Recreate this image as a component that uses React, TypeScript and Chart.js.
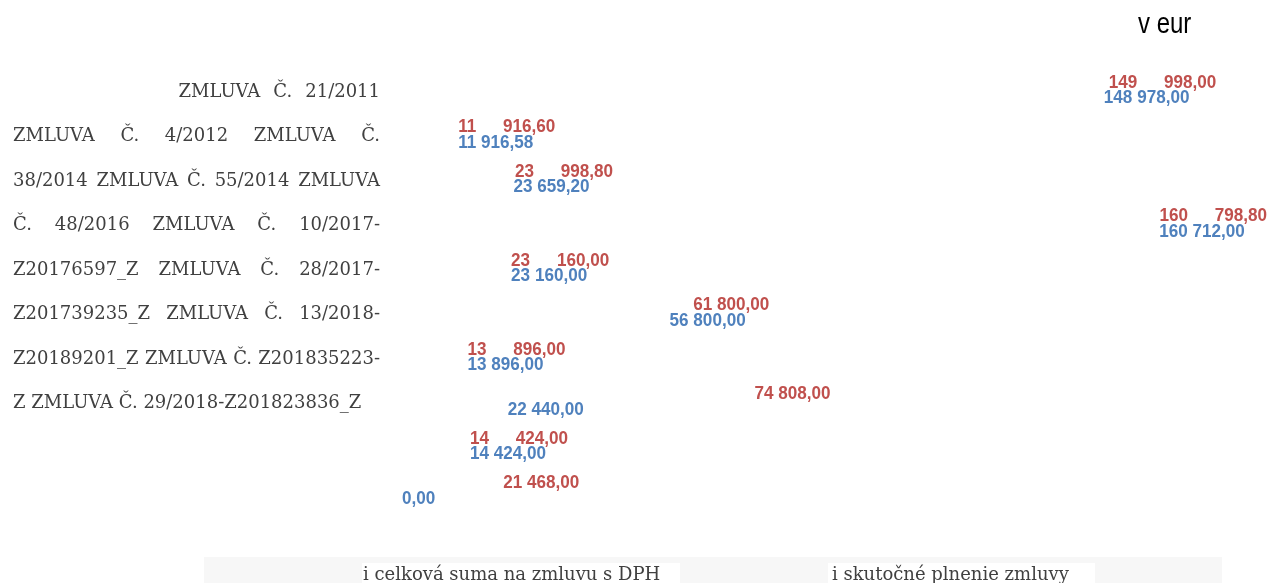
import React, { useEffect, useRef } from "react";
import { Chart, registerables } from "chart.js";

Chart.register(...registerables);

const categories = [
  "ZMLUVA Č. 21/2011",
  "ZMLUVA Č. 4/2012",
  "ZMLUVA Č. 38/2014",
  "ZMLUVA Č. 55/2014",
  "ZMLUVA Č. 48/2016",
  "ZMLUVA Č. 10/2017-Z20176597_Z",
  "ZMLUVA Č. 28/2017-Z201739235_Z",
  "ZMLUVA Č. 13/2018-Z20189201_Z",
  "ZMLUVA Č. Z201835223-Z",
  "ZMLUVA Č. 29/2018-Z201823836_Z",
];

const totalWithVat = [149998.0, 11916.6, 23998.8, 160798.8, 23160.0, 61800.0, 13896.0, 74808.0, 14424.0, 21468.0];
const actualFulfilment = [148978.0, 11916.58, 23659.2, 160712.0, 23160.0, 56800.0, 13896.0, 22440.0, 14424.0, 0.0];

const axisTextLines = [
  "ZMLUVA Č. 21/2011",
  "ZMLUVA Č. 4/2012 ZMLUVA Č.",
  "38/2014 ZMLUVA Č. 55/2014 ZMLUVA",
  "Č. 48/2016 ZMLUVA Č. 10/2017-",
  "Z20176597_Z ZMLUVA Č. 28/2017-",
  "Z201739235_Z ZMLUVA Č. 13/2018-",
  "Z20189201_Z ZMLUVA Č. Z201835223-",
  "Z ZMLUVA Č. 29/2018-Z201823836_Z",
];

const seriesNames = ["celková suma na zmluvu s DPH", "skutočné plnenie zmluvy"];
const unitLabel = "v eur";

const seriesColors = ["#c0504d", "#4f81bd"];
const LABEL_FONT = "bold 19px 'Liberation Sans', Arial, sans-serif";
const LABEL_SCALE_X = 0.9;
const AXIS_FONT = "18px 'DejaVu Serif', serif";
const LEGEND_FONT = "18px 'DejaVu Serif', serif";
const TITLE_FONT = "30px 'Liberation Sans', sans-serif";

const fmt = (v: number) => {
  const [i, d] = v.toFixed(2).split(".");
  return i.replace(/\B(?=(\d{3})+(?!\d))/g, " ") + "," + d;
};

const labelPlugin = {
  id: "valueLabels",
  afterDatasetsDraw(chart: any) {
    const ctx = chart.ctx as CanvasRenderingContext2D;
    ctx.save();
    ctx.font = LABEL_FONT;
    ctx.textBaseline = "middle";
    chart.data.datasets.forEach((ds: any, di: number) => {
      const meta = chart.getDatasetMeta(di);
      meta.data.forEach((el: any, i: number) => {
        const v = ds.data[i] as number;
        const text = fmt(v);
        const other = chart.data.datasets[1 - di].data[i] as number;
        ctx.fillStyle = seriesColors[di];
        ctx.save();
        ctx.translate(el.x, el.y);
        ctx.scale(LABEL_SCALE_X, 1);
        const sp = text.indexOf(" ");
        if (di === 0 && sp > 0 && Math.abs(v - other) < 2000) {
          const w = ctx.measureText(text).width;
          ctx.textAlign = "left";
          ctx.fillText(text.slice(0, sp), 0, 0);
          ctx.textAlign = "right";
          ctx.fillText(text.slice(sp + 1), w + 22 / LABEL_SCALE_X, 0);
        } else {
          ctx.textAlign = "left";
          ctx.fillText(text, 0, 0);
        }
        ctx.restore();
      });
    });
    ctx.restore();
  },
};

const decorPlugin = {
  id: "decor",
  afterDraw(chart: any) {
    const ctx = chart.ctx as CanvasRenderingContext2D;
    const yScale = chart.scales.y;
    ctx.save();
    // axis paragraph
    ctx.font = AXIS_FONT;
    ctx.fillStyle = "#404040";
    ctx.textBaseline = "alphabetic";
    ctx.textAlign = "left";
    const left = 13;
    const right = 380;
    axisTextLines.forEach((line, i) => {
      const y = yScale.getPixelForValue(i) + 6.5;
      const words = line.split(" ");
      const ws = words.map((w) => ctx.measureText(w).width);
      const total = ws.reduce((a, b) => a + b, 0);
      const spaceW = ctx.measureText(" ").width;
      let gap = spaceW;
      let x = left;
      if (i === 0) {
        gap = 13;
        x = right - (total + gap * (words.length - 1));
      } else if (i < axisTextLines.length - 1) {
        gap = (right - left - total) / (words.length - 1);
      }
      words.forEach((w, k) => {
        ctx.fillText(w, x, y);
        x += ws[k] + gap;
      });
    });

    // legend band
    ctx.fillStyle = "#f7f7f7";
    ctx.fillRect(204, 557, 1018, 26);
    ctx.fillStyle = "#ffffff";
    ctx.fillRect(362, 563, 318, 20);
    ctx.fillRect(828, 563, 267, 20);
    ctx.font = LEGEND_FONT;
    ctx.fillStyle = "#404040";
    ctx.fillText("i " + seriesNames[0], 363, 580);
    ctx.fillText("i " + seriesNames[1], 832, 580);

    // unit title (narrow face emulated by horizontal scaling)
    ctx.font = TITLE_FONT;
    ctx.fillStyle = "#000000";
    ctx.translate(1138, 33);
    ctx.scale(0.8, 1);
    ctx.fillText(unitLabel, 0, 0);
    ctx.restore();
  },
};

export default function App() {
  const ref = useRef<HTMLCanvasElement | null>(null);
  useEffect(() => {
    if (!ref.current) return;
    const chart = new Chart(ref.current, {
      type: "bar",
      data: {
        labels: categories,
        datasets: [
          {
            label: seriesNames[0],
            data: totalWithVat,
            backgroundColor: "rgba(0,0,0,0)",
            borderWidth: 0,
            categoryPercentage: 0.7,
            barPercentage: 1,
          },
          {
            label: seriesNames[1],
            data: actualFulfilment,
            backgroundColor: "rgba(0,0,0,0)",
            borderWidth: 0,
            categoryPercentage: 0.7,
            barPercentage: 1,
          },
        ],
      },
      options: {
        indexAxis: "y",
        animation: false,
        responsive: false,
        layout: { padding: { left: 402, right: 19, top: 68, bottom: 70 } },
        scales: {
          x: { display: false, min: 0, max: 180000 },
          y: { display: false },
        },
        plugins: {
          legend: { display: false },
          title: { display: false },
          tooltip: { enabled: false },
        },
      },
      plugins: [labelPlugin, decorPlugin],
    } as any);
    return () => chart.destroy();
  }, []);
  return (
    <div style={{ position: "absolute", left: 0, top: 0, width: 1269, height: 583, background: "#fff" }}>
      <canvas ref={ref} width={1269} height={583} style={{ display: "block" }} />
    </div>
  );
}
